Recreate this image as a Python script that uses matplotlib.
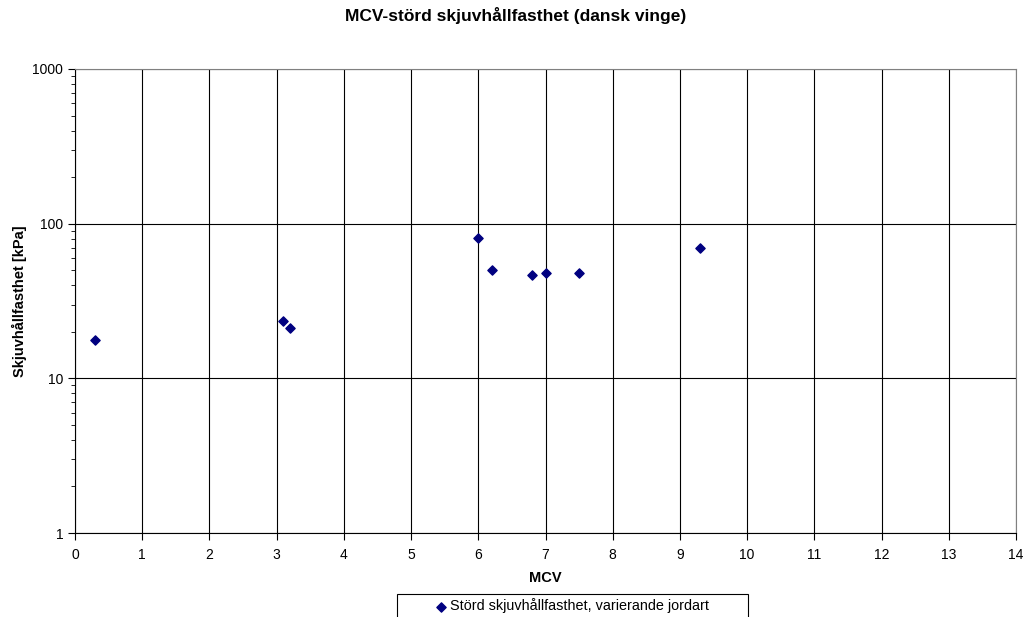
import numpy as np
import matplotlib.pyplot as plt
from matplotlib.ticker import FixedLocator, LogLocator, NullFormatter
from matplotlib.patches import Rectangle

plt.rcParams['font.family'] = ['Liberation Sans', 'DejaVu Sans']

# =============================================================================
# Data
# =============================================================================
mcv = [0.3, 3.1, 3.2, 6.0, 6.2, 6.8, 7.0, 7.5, 9.3]
skjuv = [17.7, 23.6, 21.2, 80.5, 50.2, 46.6, 47.8, 47.8, 69.5]
serie = 'Störd skjuvhållfasthet, varierande jordart'

# =============================================================================
# Plot
# =============================================================================
fig = plt.figure(figsize=(10.31, 6.17), dpi=100)
ax = fig.add_axes([0.0727, 0.1361, 0.9128, 0.7521])

ax.scatter(mcv, skjuv, marker='D', s=22, color='#000080', zorder=3, label=serie)

ax.set_yscale('log')
ax.set_xlim(0, 14)
ax.set_ylim(1, 1000)
ax.xaxis.set_major_locator(FixedLocator(range(0, 15)))
ax.set_yticks([1, 10, 100, 1000])
ax.set_yticklabels(['1', '10', '100', '1000'])
ax.yaxis.set_minor_locator(LogLocator(base=10, subs=np.arange(2, 10)))
ax.yaxis.set_minor_formatter(NullFormatter())

ax.grid(True, which='major', color='black', linewidth=0.8)
ax.tick_params(which='major', direction='out', length=5, labelsize=10, color='black')
ax.tick_params(which='minor', direction='out', length=3, color='black')
ax.tick_params(axis='x', pad=6)
for s in ['top', 'right']:
    ax.spines[s].set_color('#808080')
for s in ['left', 'bottom']:
    ax.spines[s].set_color('black')

ax.set_xlabel('MCV', fontsize=10.5, fontweight='bold', labelpad=6)
ax.set_ylabel('Skjuvhållfasthet [kPa]', fontsize=10.5, fontweight='bold', labelpad=4)
fig.text(0.5, 1 - 15 / 617, 'MCV-störd skjuvhållfasthet (dansk vinge)', fontsize=12.5,
         fontweight='bold', ha='center', va='center')

# legend: text without frame, frame drawn as rectangle running off the bottom
leg = fig.legend(loc='center left', bbox_to_anchor=(434 / 1031, 1 - 606 / 617), fontsize=10.4,
                 frameon=False, handletextpad=0.1, handlelength=1.0, borderpad=0,
                 borderaxespad=0, handles=ax.collections, labels=[serie])
fig.patches.append(Rectangle((397 / 1031, -0.01), 351 / 1031, (617 - 594) / 617 + 0.01,
                             transform=fig.transFigure, fill=False, edgecolor='black',
                             linewidth=0.8))

fig.savefig('out.png', dpi=100)
